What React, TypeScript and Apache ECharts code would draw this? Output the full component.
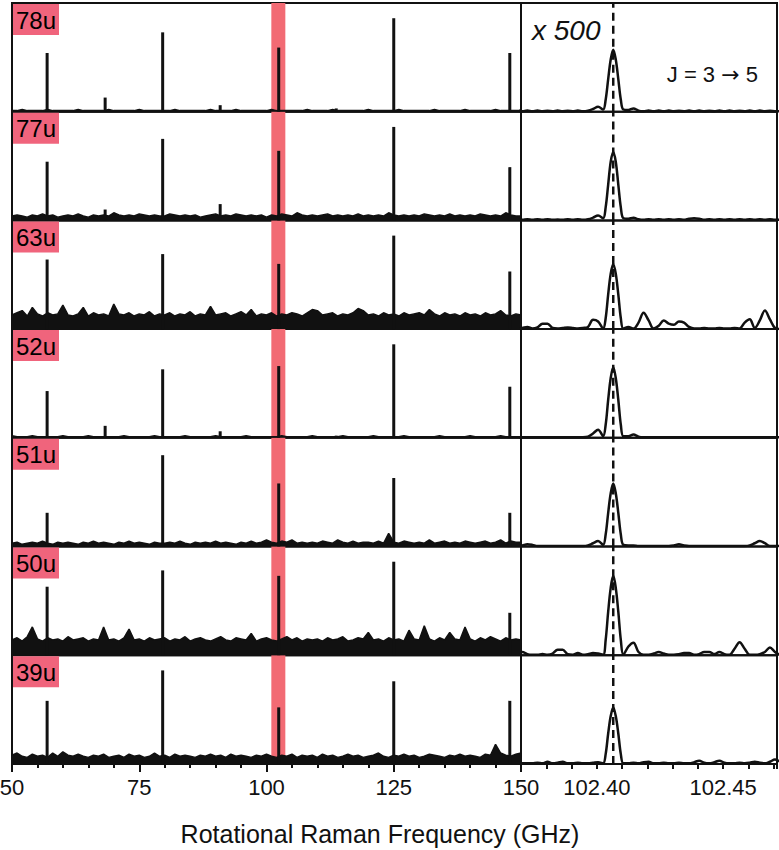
import React, { useEffect, useRef } from "react";
import * as echarts from "echarts";

// ---------- data ----------
const rowLabels = ["78u", "77u", "63u", "52u", "51u", "50u", "39u"];

// main rotational lines (GHz) and weaker lines
const peakFreqs = [56.9, 79.6, 102.4, 125.0, 147.8];
const minorFreqs = [68.3, 90.9, 113.7];

// heights in % of panel height
const peaks78u = [54, 73, 59, 86, 54];
const peaks77u = [54, 75, 64, 86, 49];
const peaks63u = [64, 69, 60, 86, 53];
const peaks52u = [43, 63, 66, 86, 47];
const peaks51u = [31, 84, 58, 63, 31];
const peaks50u = [63, 78, 73, 86, 39];
const peaks39u = [58, 86, 52, 76, 58];

const minor78u = [13, 6, 3];
const minor77u = [10, 15, 0];
const minor63u = [0, 0, 0];
const minor52u = [11, 6, 2];
const minor51u = [0, 0, 0];
const minor50u = [0, 0, 0];
const minor39u = [0, 0, 0];

// noise floor envelope, sampled every 1 GHz from 50 to 150 GHz (% of panel height)
const noiseStart = 50;
const noiseStep = 1;
const noise78u = [
  1, 1, 2, 1, 1, 1, 1, 2, 1, 1, 1, 1, 1, 2, 1, 1, 1, 1, 1, 2, 1, 1, 1, 1, 1, 2, 1, 1, 1, 1,
  1, 1, 2, 1, 1, 1, 1, 1, 1, 2, 1, 1, 1, 1, 2, 1, 1, 1, 1, 1, 1, 2, 1, 1, 1, 1, 1, 1, 2, 1,
  1, 1, 1, 2, 1, 1, 1, 1, 1, 1, 2, 1, 1, 1, 1, 1, 2, 1, 1, 1, 1, 1, 1, 2, 1, 1, 1, 1, 1, 2,
  1, 1, 1, 1, 1, 2, 1, 1, 1, 1, 1,
];
const noise77u = [
  4, 5, 4, 3, 5, 4, 6, 4, 5, 3, 4, 5, 4, 6, 4, 3, 5, 4, 5, 4, 7, 5, 4, 5, 4, 6, 5, 4, 5, 4,
  4, 6, 5, 4, 5, 4, 5, 3, 4, 5, 6, 4, 5, 4, 6, 5, 4, 5, 4, 5, 3, 5, 4, 6, 5, 4, 7, 5, 4, 5,
  4, 5, 6, 4, 5, 4, 5, 4, 6, 4, 5, 4, 5, 4, 7, 5, 4, 5, 4, 5, 4, 6, 5, 4, 5, 4, 6, 4, 5, 4,
  5, 4, 6, 5, 4, 5, 4, 7, 5, 4, 4,
];
const noise63u = [
  13, 15, 17, 12, 20, 14, 12, 15, 13, 14, 22, 13, 12, 14, 20, 12, 15, 13, 14, 12,
  23, 14, 13, 15, 12, 14, 13, 16, 12, 14, 13, 15, 12, 14, 13, 16, 12, 14, 13, 21,
  13, 14, 15, 12, 14, 16, 13, 18, 12, 14, 13, 15, 12, 14, 13, 15, 14, 12, 15, 18,
  17, 13, 14, 15, 12, 14, 13, 15, 19, 17, 13, 14, 12, 15, 13, 14, 12, 15, 13, 14,
  15, 13, 18, 14, 12, 15, 13, 14, 12, 15, 13, 14, 12, 15, 13, 14, 17, 13, 12, 14, 13,
];
const noise52u = [
  2, 1, 1, 1, 2, 1, 1, 1, 1, 1, 2, 1, 1, 1, 1, 2, 1, 1, 1, 1, 1, 1, 2, 1, 1, 1, 1, 1, 2, 1,
  1, 1, 1, 1, 2, 1, 1, 1, 1, 1, 2, 1, 1, 1, 1, 1, 2, 1, 1, 1, 1, 1, 1, 2, 1, 1, 1, 1, 1, 2,
  1, 1, 1, 1, 1, 2, 1, 1, 1, 1, 1, 2, 1, 1, 1, 1, 1, 2, 1, 1, 1, 1, 1, 1, 2, 1, 1, 1, 1, 1,
  2, 1, 1, 1, 1, 1, 2, 1, 1, 1, 1,
];
const noise51u = [
  3, 4, 2, 3, 4, 3, 5, 3, 2, 4, 3, 4, 3, 2, 4, 3, 5, 3, 4, 3, 2, 4, 3, 5, 3, 4, 3, 2, 4, 3,
  3, 4, 3, 5, 3, 2, 4, 3, 4, 3, 5, 3, 4, 3, 2, 4, 3, 5, 3, 4, 6, 4, 3, 5, 4, 6, 3, 4, 3, 4,
  3, 5, 4, 3, 6, 4, 3, 5, 3, 4, 4, 3, 5, 3, 12, 4, 3, 5, 4, 3, 4, 3, 6, 3, 4, 5, 3, 4, 3, 5,
  4, 3, 4, 5, 3, 4, 6, 3, 5, 4, 4,
];
const noise50u = [
  14, 16, 13, 17, 26, 15, 13, 16, 14, 15, 13, 17, 14, 15, 16, 13, 15, 14, 26, 14,
  15, 13, 16, 24, 14, 15, 13, 16, 14, 15, 16, 13, 15, 14, 17, 13, 15, 16, 14, 13,
  15, 17, 14, 13, 16, 15, 14, 20, 13, 15, 16, 14, 13, 15, 17, 14, 16, 13, 15, 14,
  15, 13, 16, 14, 15, 17, 13, 14, 16, 15, 21, 14, 15, 13, 16, 14, 15, 13, 23, 15,
  14, 27, 15, 13, 16, 14, 21, 15, 14, 26, 15, 13, 16, 14, 17, 15, 13, 16, 14, 15, 14,
];
const noise39u = [
  8, 10, 7, 6, 9, 7, 8, 6, 10, 7, 11, 8, 7, 9, 7, 6, 8, 7, 9, 6, 7, 8, 6, 9, 7, 8, 6, 7, 10, 7,
  8, 6, 9, 7, 8, 7, 6, 8, 7, 9, 7, 8, 6, 9, 7, 8, 7, 6, 8, 7, 9, 7, 6, 8, 7, 9, 6, 8, 7, 8,
  6, 9, 7, 8, 6, 7, 9, 7, 8, 6, 7, 8, 10, 7, 6, 8, 7, 9, 7, 8, 6, 7, 9, 8, 7, 6, 8, 7, 9, 7,
  8, 7, 6, 9, 8, 18, 10, 8, 7, 9, 10,
];

// zoomed (x 500) view of the J = 3 -> 5 line
const zoomFreqs = [
  102.3685, 102.3705, 102.3725, 102.3745, 102.3765, 102.3785, 102.3805, 102.3825, 102.3845,
  102.3865, 102.3885, 102.3905, 102.3925, 102.3945, 102.3965, 102.3985, 102.4005, 102.4025,
  102.4035, 102.4045, 102.4055, 102.4065, 102.4075, 102.4085, 102.4095, 102.4105,
  102.4125, 102.4145, 102.4165, 102.4185, 102.4205, 102.4225, 102.4245, 102.4265, 102.4285,
  102.4305, 102.4325, 102.4345, 102.4365, 102.4385, 102.4405, 102.4425, 102.4445, 102.4465,
  102.4485, 102.4505, 102.4525, 102.4545, 102.4565, 102.4585, 102.4605, 102.4625, 102.4645,
  102.4665, 102.4685, 102.4705, 102.4725,
];
const zoom78u = [
  1, 0.5, 1, 0.5, 1, 0.5, 0.8, 0.5, 1, 0.5, 0.8, 0.5, 1, 0.5, 1,
  2.5, 4.5, 2,
  11, 30, 48, 57, 48, 30, 11, 2,
  1.5, 3, 1, 0.5, 1, 0.5, 1, 0.5, 1, 0.5, 0.8, 0.5, 1, 0.5, 1, 0.5, 0.8, 0.5, 1, 0.5, 1, 0.5,
  0.8, 0.5, 1, 0.5, 1, 0.5, 0.8, 0.5, 0.5,
];
const zoom77u = [
  1, 0.5, 1, 0.5, 1, 0.5, 1, 0.5, 0.8, 0.5, 1, 0.5, 1, 0.5, 1,
  2.5, 4.5, 2,
  12, 33, 54, 63, 54, 33, 12, 2,
  1.5, 2.5, 1, 0.5, 1, 0.5, 1, 0.5, 1, 0.5, 1, 0.5, 1.5, 2, 1.5, 0.5, 1, 0.5, 1, 0.5, 1, 0.5,
  1, 0.5, 1, 0.5, 1, 0.5, 1, 0.5, 0.5,
];
const zoom63u = [
  0.5, 1, 2, 0.5, 1.5, 5, 5, 1, 0.5, 1, 1.5, 1, 0.5, 1, 2,
  8.5, 7, 0.5,
  10, 32, 51, 60, 51, 32, 10, 0.5,
  2, 0.5, 6, 15, 8, 0.5, 3, 8, 5, 4, 7, 6, 2, 0.5, 0.5, 1, 0.5, 0.5, 1, 0.5, 0.5, 1,
  0.5, 6, 9, 1, 8, 17, 9, 1, 0,
];
const zoom52u = [
  0.5, 0.5, 0.5, 0.5, 0.5, 0.5, 0.5, 0.5, 0.5, 0.5, 0.5, 0.5, 0.5, 0.5, 1,
  4, 7.5, 1.5,
  12, 35, 55, 65, 55, 35, 12, 1.5,
  1.5, 3, 1, 0.5, 0.5, 0.5, 0.5, 0.5, 0.5, 0.5, 0.5, 0.5, 0.5, 0.5, 0.5, 0.5, 0.5, 0.5, 0.5, 0.5,
  0.5, 0.5, 0.5, 0.5, 0.5, 0.5, 0.5, 0.5, 0.5, 0.5, 0.5,
];
const zoom51u = [
  0.5, 1, 2, 1.5, 0.5, 0.5, 0.5, 0.5, 0.5, 0.5, 0.5, 0.5, 0.5, 0.5, 1,
  3, 5, 1.5,
  11, 31, 49, 58, 49, 31, 11, 1.5,
  1, 1, 0.5, 0.5, 0.5, 0.5, 0.5, 0.5, 0.5, 1, 2, 1, 0.5, 0.5, 0.5, 0.5, 0.5, 0.5, 0.5, 0.5,
  0.5, 0.5, 0.5, 0.5, 1, 3, 5, 3, 0.5, 0.5, 0.5,
];
const zoom50u = [
  3, 3, 1, 0.5, 0.5, 1, 0.5, 1.5, 5, 5, 1, 0.5, 2, 0.5, 1,
  2, 1.5, 0.5,
  14, 40, 62, 73, 62, 40, 14, 0.5,
  8, 11.5, 3, 0.5, 0.5, 1.5, 3, 1.5, 0.5, 0.5, 1, 2, 2, 0.5, 1, 3, 3, 1, 3, 1,
  0.5, 6, 12, 6, 0.5, 0.5, 1, 3, 7, 3, 0,
];
const zoom39u = [
  0.5, 0.5, 0.5, 0.5, 1, 0.5, 2, 0.5, 1, 2, 0.5, 0.5, 1, 0.5, 0.5,
  1, 1.5, 0.5,
  9, 28, 44, 52, 44, 28, 9, 0.5,
  0.5, 1, 0.5, 1.5, 2, 0.5, 0.5, 1, 0.5, 0.5, 1, 0.5, 0.5, 1.5, 3, 1, 0.5, 1.5, 3, 1,
  0.5, 0.5, 1, 0.5, 1, 2, 1, 0.5, 2, 4, 2,
];

const bandRange = [100.95, 103.7];
const lineCentre = 102.4065;

const leftMin = 50;
const leftMax = 150;
const leftInterval = 25;
const rightMin = 102.37;
const rightMax = 102.4713;
const rightInterval = 0.01;

const rows = [
  { label: rowLabels[0], peaks: peaks78u, minor: minor78u, noise: noise78u, zoom: zoom78u },
  { label: rowLabels[1], peaks: peaks77u, minor: minor77u, noise: noise77u, zoom: zoom77u },
  { label: rowLabels[2], peaks: peaks63u, minor: minor63u, noise: noise63u, zoom: zoom63u },
  { label: rowLabels[3], peaks: peaks52u, minor: minor52u, noise: noise52u, zoom: zoom52u },
  { label: rowLabels[4], peaks: peaks51u, minor: minor51u, noise: noise51u, zoom: zoom51u },
  { label: rowLabels[5], peaks: peaks50u, minor: minor50u, noise: noise50u, zoom: zoom50u },
  { label: rowLabels[6], peaks: peaks39u, minor: minor39u, noise: noise39u, zoom: zoom39u },
];

// ---------- layout / style ----------
const FONT = '"Liberation Sans", Arial, Helvetica, sans-serif';
const INK = "#111111";
const PINK_LABEL = "#f0647c";
const PINK_BAND = "#f26b74";
const ROW_TOP = 3;
const ROW_H = 108.7;
const LEFT_X = 12;
const SPLIT_X = 521;
const RIGHT_END = 777;

export default function App() {
  const ref = useRef<HTMLDivElement>(null);

  useEffect(() => {
    if (!ref.current) return;
    const chart = echarts.init(ref.current, null, { renderer: "svg" });
    const grids: any[] = [];
    const xAxes: any[] = [];
    const yAxes: any[] = [];
    const series: any[] = [];
    const graphics: any[] = [];
    const last = rows.length - 1;

    const stickRender = (params: any, api: any) => {
      const base = api.coord([api.value(0), 0]);
      const top = api.coord([api.value(0), api.value(1)]);
      return {
        type: "rect",
        shape: { x: base[0] - 1.5, y: top[1], width: 3, height: base[1] - top[1] },
        style: { fill: INK },
      };
    };

    rows.forEach((row, i) => {
      const top = ROW_TOP + i * ROW_H;
      const gL = 2 * i;
      const gR = 2 * i + 1;
      grids.push({
        left: LEFT_X, top, width: SPLIT_X - LEFT_X, height: ROW_H,
        outerBoundsMode: "none", containLabel: false,
        show: true, borderColor: INK, borderWidth: 2, backgroundColor: "transparent",
      });
      grids.push({
        left: SPLIT_X, top, width: RIGHT_END - SPLIT_X, height: ROW_H,
        outerBoundsMode: "none", containLabel: false,
        show: true, borderColor: INK, borderWidth: 2, backgroundColor: "transparent",
      });
      const isLast = i === last;
      xAxes.push({
        type: "value", gridIndex: gL, min: leftMin, max: leftMax, interval: leftInterval,
        axisLine: { show: false }, splitLine: { show: false },
        axisTick: { show: isLast, length: 8, lineStyle: { color: INK, width: 2 } },
        minorTick: { show: isLast, splitNumber: 5, length: 4, lineStyle: { color: INK, width: 2 } },
        axisLabel: {
          show: isLast, fontSize: 22, color: INK, fontFamily: FONT, margin: 13,
          showMinLabel: true, showMaxLabel: true,
        },
      });
      xAxes.push({
        type: "value", gridIndex: gR, min: rightMin, max: rightMax, interval: rightInterval,
        axisLine: { show: false }, splitLine: { show: false },
        axisTick: { show: isLast, length: 5, lineStyle: { color: INK, width: 2 } },
        axisLabel: {
          show: isLast, fontSize: 22, color: INK, fontFamily: FONT, margin: 13,
          showMinLabel: true, showMaxLabel: true,
          formatter: (v: number) => {
            const r = Math.round(v * 100);
            return r % 5 === 0 ? (r / 100).toFixed(2) : "";
          },
        },
      });
      yAxes.push({ type: "value", gridIndex: gL, min: 0, max: 100, show: false });
      yAxes.push({ type: "value", gridIndex: gR, min: 0, max: 100, show: false });

      // highlighted band (behind)
      series.push({
        type: "line", xAxisIndex: gL, yAxisIndex: gL, data: [], z: 1, silent: true,
        markArea: {
          silent: true,
          itemStyle: { color: PINK_BAND, opacity: 1 },
          data: [[{ xAxis: bandRange[0] }, { xAxis: bandRange[1] }]],
        },
      });
      // noise floor
      series.push({
        type: "line", xAxisIndex: gL, yAxisIndex: gL, symbol: "none", z: 3,
        silent: true,
        lineStyle: { color: INK, width: 1.5 },
        areaStyle: { color: INK, opacity: 1 },
        data: row.noise.map((v, k) => [noiseStart + k * noiseStep, v]),
      });
      // line sticks
      const sticks: number[][] = [];
      peakFreqs.forEach((f, k) => sticks.push([f, row.peaks[k]]));
      minorFreqs.forEach((f, k) => { if (row.minor[k] > 0) sticks.push([f, row.minor[k]]); });
      series.push({
        type: "custom", xAxisIndex: gL, yAxisIndex: gL, z: 4, silent: true,
        renderItem: stickRender, data: sticks,
      });
      // zoomed line
      series.push({
        type: "line", xAxisIndex: gR, yAxisIndex: gR, smooth: 0.35, symbol: "none", z: 4,
        silent: true,
        lineStyle: { color: INK, width: 2.5 },
        data: row.zoom.map((v, k) => [zoomFreqs[k], v]),
      });
      // dashed marker at the line centre
      series.push({
        type: "line", xAxisIndex: gR, yAxisIndex: gR, symbol: "none", z: 5, silent: true,
        lineStyle: { color: INK, width: 2.5, type: [8, 5] },
        data: [[lineCentre, 0], [lineCentre, 100]],
      });

      // row label
      graphics.push({
        type: "rect", z: 100, shape: { x: 13, y: top + 1, width: 46, height: 31 },
        style: { fill: PINK_LABEL },
      });
      graphics.push({
        type: "text", z: 101, x: 36, y: top + 17,
        style: {
          text: row.label, fill: "#000", font: `24px ${FONT}`,
          textAlign: "center", textVerticalAlign: "middle",
        },
      });
    });

    graphics.push({
      type: "text", z: 101, x: 532, y: 30,
      style: {
        text: "x 500", fill: INK, font: `italic 28px ${FONT}`,
        textAlign: "left", textVerticalAlign: "middle",
      },
    });
    graphics.push({
      type: "text", z: 101, x: 758, y: 74,
      style: {
        text: "{a|J = 3 }{b|\u2192}{a| 5}",
        rich: {
          a: { fontSize: 22, fontFamily: FONT, fill: INK },
          b: { fontSize: 22, fontFamily: '"DejaVu Sans"', fill: INK },
        },
        fill: INK, font: `22px ${FONT}`,
        textAlign: "right", textVerticalAlign: "middle",
      },
    });
    graphics.push({
      type: "text", z: 101, x: 380, y: 834,
      style: {
        text: "Rotational Raman Frequency (GHz)", fill: INK, font: `25px ${FONT}`,
        textAlign: "center", textVerticalAlign: "middle",
      },
    });

    chart.setOption({
      animation: false,
      backgroundColor: "#ffffff",
      grid: grids,
      xAxis: xAxes,
      yAxis: yAxes,
      series,
      graphic: graphics,
    });
    return () => chart.dispose();
  }, []);

  return (
    <div
      ref={ref}
      style={{ position: "absolute", left: 0, top: 0, width: 779, height: 850 }}
    />
  );
}
